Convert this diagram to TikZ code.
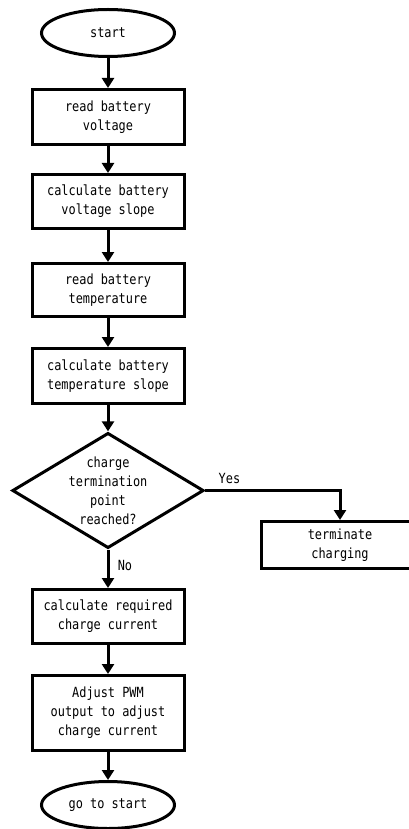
\documentclass[tikz,border=0pt]{standalone}
\usepackage{fontspec}
\setmainfont{DejaVu Sans Mono}[FakeStretch=0.85]
\usetikzlibrary{shapes.geometric,arrows.meta}
\tikzstyle{terminal} = [draw=black, line width=3pt, ellipse, minimum width=133pt, minimum height=47pt, inner sep=0pt]
\tikzstyle{process} = [draw=black, line width=3pt, rectangle, minimum width=152pt, inner sep=0pt, align=center]
\tikzstyle{decision} = [draw=black, line width=3pt, diamond, aspect=1.66, inner sep=0pt, minimum width=188pt, minimum height=112pt, align=center]
\tikzstyle{flow} = [line width=3pt, -{Triangle[length=10pt,width=12pt]}]

\begin{document}
\begin{tikzpicture}[x=1pt, y=-1pt, font=\fontsize{14}{19}\selectfont]
\useasboundingbox (0,0) rectangle (409,829);
\node [terminal] (start) at (108,33) {start};
\node [process, minimum height=55pt] (readv) at (108,117) {read battery\\voltage};
\node [process, minimum height=54pt] (vslope) at (108,201.5) {calculate battery\\voltage slope};
\node [process, minimum height=53pt] (readt) at (108,290) {read battery\\temperature};
\node [process, minimum height=55pt] (tslope) at (108,376) {calculate battery\\temperature slope};
\node [decision] (reached) at (108,490.5) {charge\\termination\\point\\reached?};
\node [process, minimum width=157pt, minimum height=47pt] (terminate) at (340,545) {terminate\\charging};
\node [process, minimum height=54pt] (current) at (108,616.5) {calculate required\\charge current};
\node [process, minimum height=75pt] (pwm) at (108,713) {Adjust PWM\\output to adjust\\charge current};
\node [terminal] (goto) at (108,805) {go to start};

\draw [flow] (start) -- (readv);
\draw [flow] (readv) -- (vslope);
\draw [flow] (vslope) -- (readt);
\draw [flow] (readt) -- (tslope);
\draw [flow] (tslope) -- (reached);
\draw [flow] (reached.east) -| node [pos=0.09, above=2pt] {Yes} (terminate.north);
\draw [flow] (reached.south) -- node [pos=0.4, right=5pt] {No} (current);
\draw [flow] (current) -- (pwm);
\draw [flow] (pwm) -- (goto);
\end{tikzpicture}
\end{document}
